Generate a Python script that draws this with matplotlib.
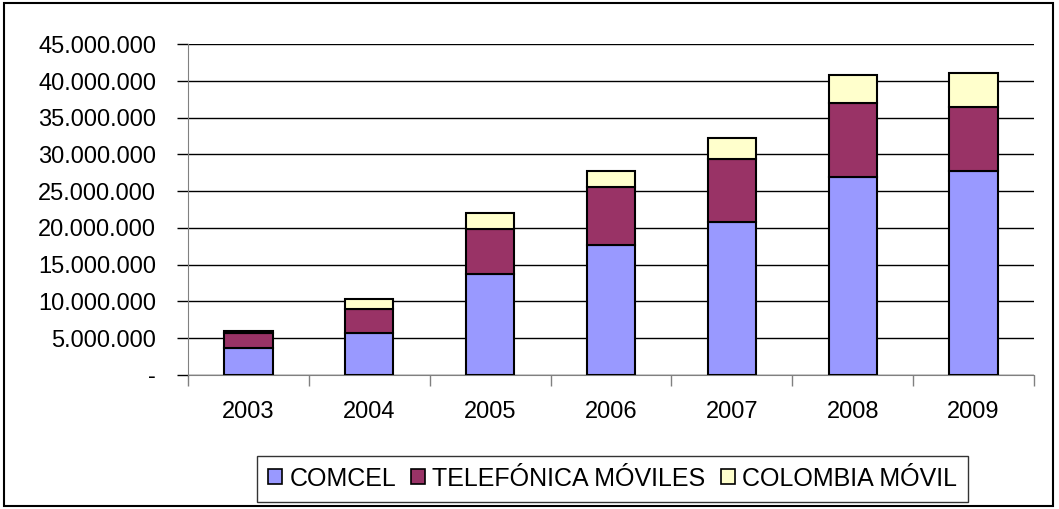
import matplotlib.pyplot as plt
from matplotlib.patches import Rectangle
from matplotlib.ticker import FuncFormatter, MultipleLocator
import numpy as np

plt.rcParams['font.family'] = ['Liberation Sans', 'DejaVu Sans']

# data (subscribers)
years = ['2003', '2004', '2005', '2006', '2007', '2008', '2009']
comcel = [3680000, 5720000, 13720000, 17670000, 20840000, 26970000, 27740000]
telefonica = [2000000, 3190000, 6080000, 7850000, 8540000, 10080000, 8760000]
colombia_movil = [300000, 1400000, 2180000, 2270000, 2900000, 3770000, 4550000]
series_names = ['COMCEL', 'TELEFÓNICA MÓVILES', 'COLOMBIA MÓVIL']
colors = ['#9999FF', '#993366', '#FFFFCC']

FS = 17

fig = plt.figure(figsize=(10.59, 5.09), dpi=100)
ax = fig.add_axes([0.1775, 0.2638, 0.7989, 0.6491])

x = np.arange(len(years))
w = 0.4
bottom = np.zeros(len(years))
for vals, name, col in zip([comcel, telefonica, colombia_movil], series_names, colors):
    ax.bar(x, vals, w, bottom=bottom, color=col, edgecolor='black', linewidth=1.5,
           label=name, zorder=3)
    bottom += np.array(vals)

ax.set_ylim(0, 45000000)
ax.set_xlim(-0.5, len(years) - 0.5)
ax.yaxis.set_major_locator(MultipleLocator(5000000))
ax.yaxis.set_major_formatter(FuncFormatter(
    lambda v, p: '-' if v == 0 else f'{int(v):,}'.replace(',', '.')))
ax.grid(axis='y', color='black', linewidth=1, zorder=0)

ax.set_xticks(x)
ax.set_xticklabels(years)
ax.set_xticks(np.arange(-0.5, len(years)), minor=True)
ax.tick_params(axis='x', which='major', length=0, pad=19, labelsize=FS)
ax.tick_params(axis='x', which='minor', length=8, color='#808080', width=1)
ax.tick_params(axis='y', length=8, color='black', width=1, labelsize=FS, pad=15)

for s in ['top', 'right']:
    ax.spines[s].set_visible(False)
ax.spines['left'].set_color('#808080')
ax.spines['bottom'].set_color('#808080')

leg = ax.legend(loc='lower left', bbox_to_anchor=(257 / 1059, 1 - 502 / 509),
                bbox_transform=fig.transFigure, ncol=3, fontsize=18,
                frameon=True, fancybox=False, edgecolor='black', borderpad=0.45,
                handlelength=0.55, handleheight=0.55, handletextpad=0.3,
                columnspacing=0.6, borderaxespad=0)
leg.get_frame().set_linewidth(1)
for h in leg.legend_handles:
    h.set_linewidth(1.2)

# outer chart border
fig.patches.append(Rectangle((4 / 1059, 3 / 509), 1049 / 1059, 503 / 509,
                             transform=fig.transFigure, fill=False,
                             edgecolor='black', linewidth=1.5))

plt.savefig('out.png', dpi=100)
